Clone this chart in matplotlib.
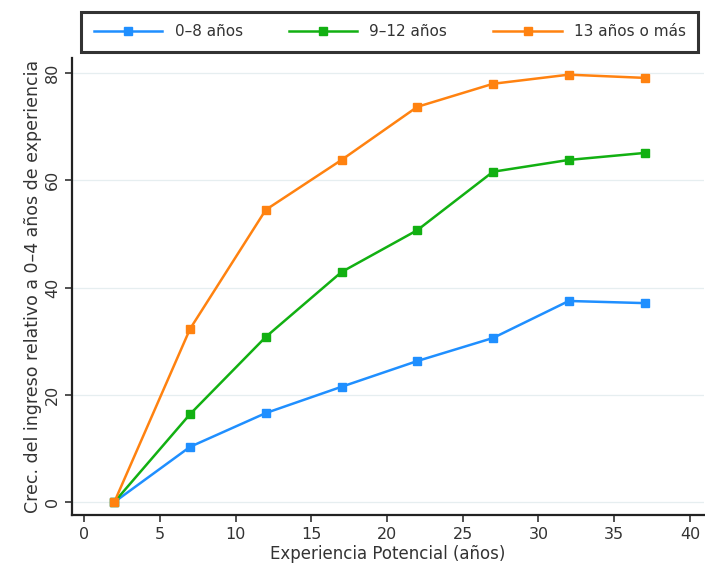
import matplotlib
matplotlib.use("Agg")
import matplotlib.pyplot as plt

experiencia = [2, 7, 12, 17, 22, 27, 32, 37]
grupos = ["0\u20138 años", "9\u201312 años", "13 años o más"]
crec_0_8 = [0, 10.3, 16.6, 21.5, 26.3, 30.6, 37.5, 37.1]
crec_9_12 = [0, 16.4, 30.8, 42.9, 50.7, 61.6, 63.8, 65.1]
crec_13 = [0, 32.3, 54.5, 63.8, 73.7, 78.0, 79.7, 79.1]
colores = ["#1f8fff", "#12b012", "#ff8210"]

xticks = [0, 5, 10, 15, 20, 25, 30, 35, 40]
yticks = [0, 20, 40, 60, 80]

fig = plt.figure(figsize=(7.05, 5.69), dpi=100)
ax = fig.add_axes([0.102, 0.095, 0.896, 0.803])

for serie, nombre, c in zip([crec_0_8, crec_9_12, crec_13], grupos, colores):
    ax.plot(experiencia, serie, color=c, lw=1.8, marker="s", ms=5.5, label=nombre)

ax.set_xlim(-0.8, 40.9)
ax.set_ylim(-2.4, 82.8)
ax.set_xticks(xticks)
ax.set_yticks(yticks)
ax.set_yticklabels([str(v) for v in yticks], rotation=90, va="center")
ax.tick_params(labelsize=11.5, colors="#333333", length=5, width=1.2)
ax.grid(axis="y", color="#e6eef0", lw=0.9)
ax.set_axisbelow(True)
for s in ["top", "right"]:
    ax.spines[s].set_visible(False)
for s in ["left", "bottom"]:
    ax.spines[s].set_linewidth(1.6)
    ax.spines[s].set_color("#222222")

ax.set_xlabel("Experiencia Potencial (años)", fontsize=12, color="#333333", labelpad=2)
ax.set_ylabel("Crec. del ingreso relativo a 0\u20134 años de experiencia",
              fontsize=12.5, color="#333333", labelpad=2)

leg = fig.legend(loc="center", bbox_to_anchor=(0.553, 0.944), ncol=3,
                 fontsize=11, frameon=True, fancybox=False, handlelength=4.5,
                 columnspacing=3.0, borderpad=0.8)
leg.get_frame().set_edgecolor("black")
leg.get_frame().set_linewidth(2.2)
for t in leg.get_texts():
    t.set_color("#333333")

fig.savefig("out.png", dpi=100)
